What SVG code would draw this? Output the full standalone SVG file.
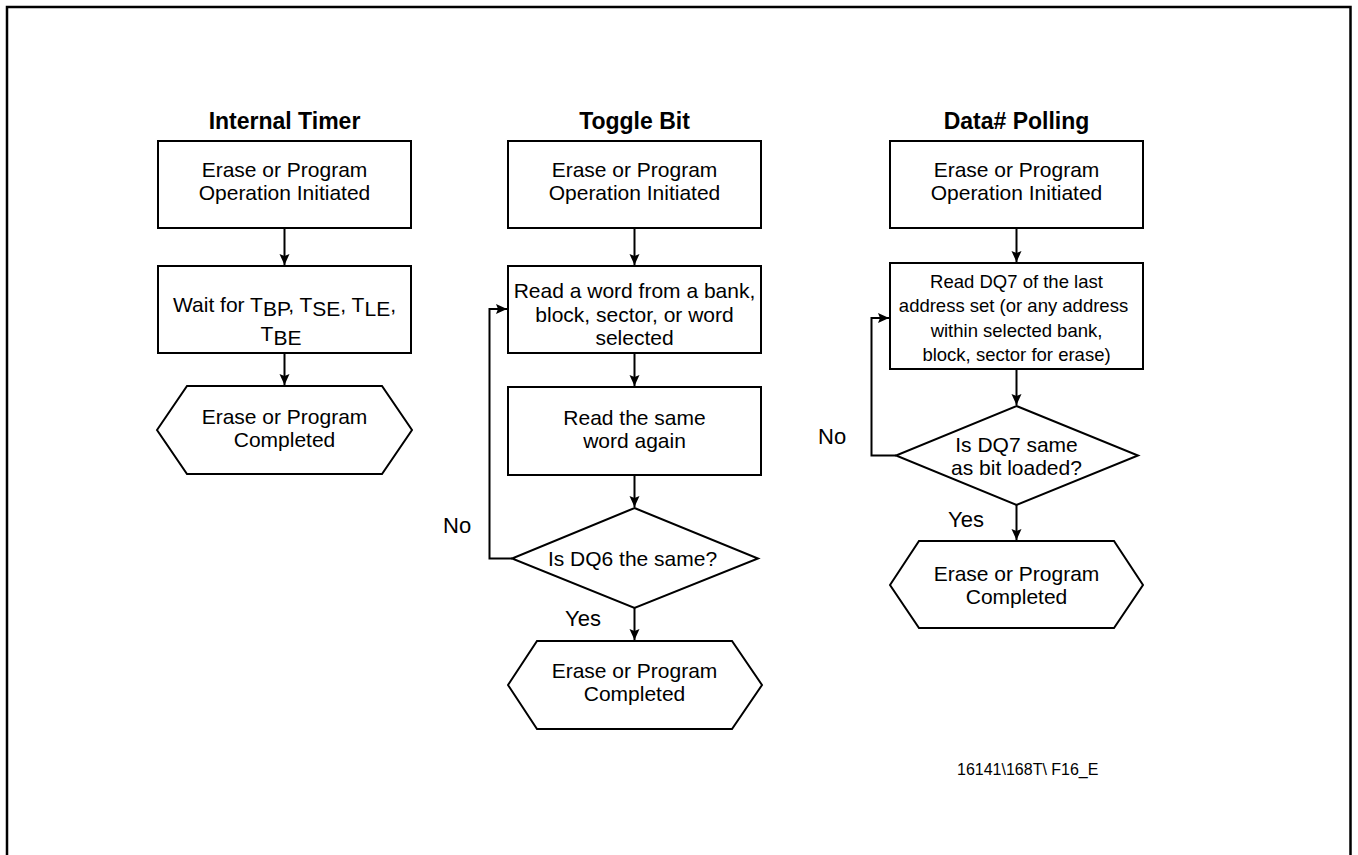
<svg xmlns="http://www.w3.org/2000/svg" width="1358" height="855" viewBox="0 0 1358 855">
<defs>
<style>
.box{fill:#fff;stroke:#000;stroke-width:2}
.t{font-family:"Liberation Sans",Arial,sans-serif;font-size:21px;fill:#000;text-anchor:middle}
.s{font-family:"Liberation Sans",Arial,sans-serif;font-size:18.5px;fill:#000;text-anchor:middle}
.h{font-family:"Liberation Sans",Arial,sans-serif;font-size:23px;font-weight:bold;fill:#000;text-anchor:middle}
.l{font-family:"Liberation Sans",Arial,sans-serif;font-size:22px;fill:#000}
.f{font-family:"Liberation Sans",Arial,sans-serif;font-size:16px;fill:#000}
.c{fill:none;stroke:#000;stroke-width:2}
</style>
<marker id="ah" markerUnits="userSpaceOnUse" markerWidth="12" markerHeight="12" refX="11" refY="6" orient="auto">
<path d="M0,1 L11,6 L0,11 L2,6 z" fill="#000"/>
</marker>
</defs>
<rect width="1358" height="855" fill="#fff"/>
<path d="M7,900 V7 H1350.5 V900" fill="none" stroke="#000" stroke-width="2.5"/>

<g id="titles">
<text class="h" x="284.5" y="129">Internal Timer</text>
<text class="h" x="634.5" y="129">Toggle Bit</text>
<text class="h" x="1016.5" y="129">Data# Polling</text>
</g>

<g id="it-start">
<rect class="box" x="158" y="141" width="253" height="87"/>
<text class="t" x="284.5" y="177">Erase or Program</text>
<text class="t" x="284.5" y="200">Operation Initiated</text>
</g>
<g id="it-wait">
<rect class="box" x="158" y="266" width="253" height="87"/>
<text class="t" x="284.5" y="312">Wait for T<tspan dy="4">BP</tspan><tspan dy="-4">, T</tspan><tspan dy="4">SE</tspan><tspan dy="-4">, T</tspan><tspan dy="4">LE</tspan><tspan dy="-4">,</tspan></text>
<text class="t" x="281" y="341">T<tspan dy="4">BE</tspan></text>
</g>
<g id="it-done">
<polygon class="box" points="157,430 187,386 382,386 412,430 382,474 187,474"/>
<text class="t" x="284.5" y="424">Erase or Program</text>
<text class="t" x="284.5" y="447">Completed</text>
</g>

<g id="tb-start">
<rect class="box" x="508" y="141" width="253" height="87"/>
<text class="t" x="634.5" y="177">Erase or Program</text>
<text class="t" x="634.5" y="200">Operation Initiated</text>
</g>
<g id="tb-read">
<rect class="box" x="508" y="266" width="253" height="87"/>
<text class="t" x="634.5" y="298">Read a word from a bank,</text>
<text class="t" x="634.5" y="321.5">block, sector, or word</text>
<text class="t" x="634.5" y="345">selected</text>
</g>
<g id="tb-again">
<rect class="box" x="508" y="387" width="253" height="88"/>
<text class="t" x="634.5" y="425">Read the same</text>
<text class="t" x="634.5" y="448">word again</text>
</g>
<g id="tb-check">
<polygon class="box" points="634.5,508 758,558.5 634.5,608 512,558.5"/>
<text class="t" x="632.5" y="566">Is DQ6 the same?</text>
</g>
<g id="tb-done">
<polygon class="box" points="508,685 537,641 732,641 762,685 732,729 537,729"/>
<text class="t" x="634.5" y="678">Erase or Program</text>
<text class="t" x="634.5" y="701">Completed</text>
</g>

<g id="dp-start">
<rect class="box" x="890" y="141" width="253" height="87"/>
<text class="t" x="1016.5" y="177">Erase or Program</text>
<text class="t" x="1016.5" y="200">Operation Initiated</text>
</g>
<g id="dp-read">
<rect class="box" x="890" y="263" width="253" height="106"/>
<text class="s" x="1016.5" y="288">Read DQ7 of the last</text>
<text class="s" x="1013.5" y="312">address set (or any address</text>
<text class="s" x="1016.5" y="336.5">within selected bank,</text>
<text class="s" x="1016.5" y="360.5">block, sector for erase)</text>
</g>
<g id="dp-check">
<polygon class="box" points="1016.5,406 1138,455.5 1016.5,505 896,455.5"/>
<text class="t" x="1016.5" y="452">Is DQ7 same</text>
<text class="t" x="1016.5" y="475">as bit loaded?</text>
</g>
<g id="dp-done">
<polygon class="box" points="890,585 919,541 1114,541 1143,585 1114,628 919,628"/>
<text class="t" x="1016.5" y="581">Erase or Program</text>
<text class="t" x="1016.5" y="604">Completed</text>
</g>

<g id="connectors">
<line class="c" x1="284.5" y1="228" x2="284.5" y2="265" marker-end="url(#ah)"/>
<line class="c" x1="284.5" y1="353" x2="284.5" y2="385" marker-end="url(#ah)"/>
<line class="c" x1="634.5" y1="228" x2="634.5" y2="265" marker-end="url(#ah)"/>
<line class="c" x1="634.5" y1="353" x2="634.5" y2="386" marker-end="url(#ah)"/>
<line class="c" x1="634.5" y1="475" x2="634.5" y2="507" marker-end="url(#ah)"/>
<line class="c" x1="634.5" y1="608" x2="634.5" y2="640" marker-end="url(#ah)"/>
<path class="c" d="M512,558.5 H489.5 V309 H507" marker-end="url(#ah)"/>
<line class="c" x1="1016.5" y1="228" x2="1016.5" y2="262" marker-end="url(#ah)"/>
<line class="c" x1="1016.5" y1="369" x2="1016.5" y2="405" marker-end="url(#ah)"/>
<line class="c" x1="1016.5" y1="505" x2="1016.5" y2="540" marker-end="url(#ah)"/>
<path class="c" d="M896,455.5 H871.5 V318 H889" marker-end="url(#ah)"/>
</g>

<g id="labels">
<text class="l" x="443" y="533">No</text>
<text class="l" x="565" y="626">Yes</text>
<text class="l" x="818" y="444">No</text>
<text class="l" x="948" y="527">Yes</text>
<text class="f" x="957" y="775">16141\168T\ F16_E</text>
</g>
</svg>
